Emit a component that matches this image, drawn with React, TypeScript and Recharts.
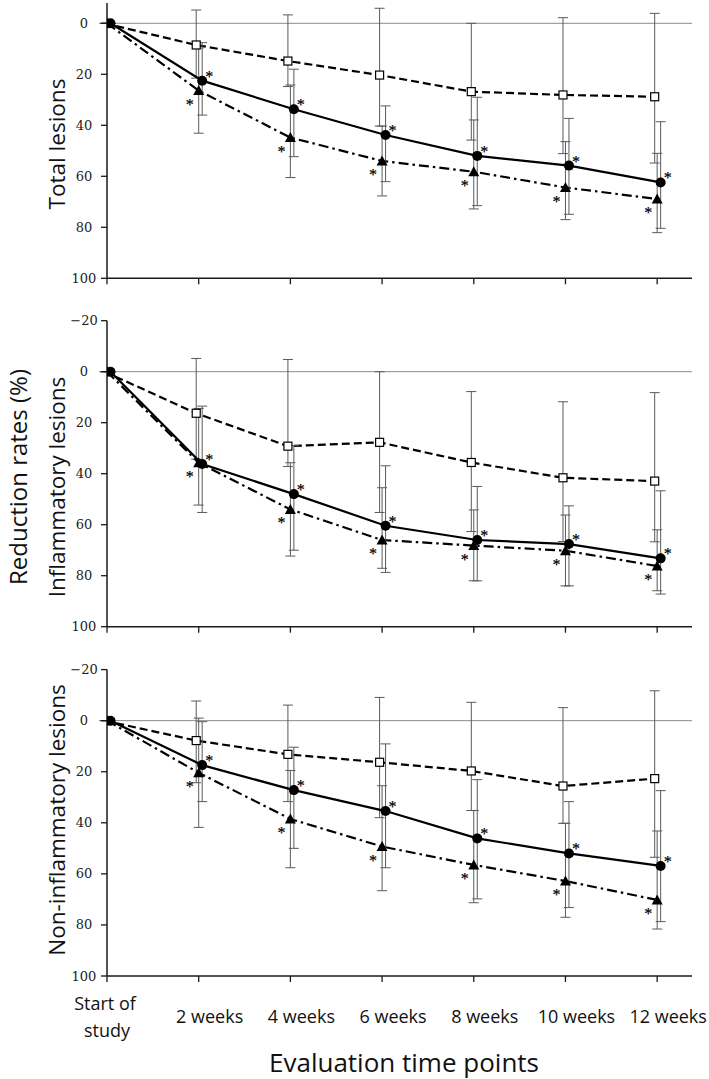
import React from 'react';
import { LineChart, Line, XAxis, YAxis, ErrorBar, ReferenceLine } from 'recharts';

// ---------- data ----------
const categories = ['Start of study', '2 weeks', '4 weeks', '6 weeks', '8 weeks', '10 weeks', '12 weeks'];
const xTicks = [0, 1, 2, 3, 4, 5, 6];
const yTicksTop = [0, 20, 40, 60, 80, 100];
const yTicksFull = [-20, 0, 20, 40, 60, 80, 100];

// Total lesions
const totalSquare = [0, 8.5, 14.8, 20.3, 26.8, 28.1, 28.8];
const totalSquareMinus = [0, 13.7, 18.1, 26.2, 26.8, 30.3, 32.7];
const totalSquarePlus = [0, 13, 10, 20, 19, 23, 26];
const totalCircle = [0, 22.5, 33.7, 43.8, 52.0, 55.8, 62.4];
const totalCircleMinus = [0, 14.9, 15.7, 11.4, 23, 18.5, 23.8];
const totalCirclePlus = [0, 13.5, 18.6, 18.3, 19.5, 19.1, 18];
const totalTriangle = [0, 26.4, 44.8, 54.0, 58.2, 64.4, 68.9];
const totalTriangleMinus = [0, 16.7, 20.6, 13.7, 20.3, 18, 17.9];
const totalTrianglePlus = [0, 16.7, 15.7, 13.7, 14.6, 12.6, 13.2];

// Inflammatory lesions
const inflSquare = [0, 16.3, 29.2, 27.7, 35.6, 41.6, 42.9];
const inflSquareMinus = [0, 21.5, 34, 27.7, 27.8, 29.8, 34.7];
const inflSquarePlus = [0, 18, 8, 27.5, 27.1, 25, 23.8];
const inflCircle = [0, 36.2, 48.0, 60.4, 66.0, 67.6, 73.2];
const inflCircleMinus = [0, 22.7, 19, 23.5, 21, 15, 26.5];
const inflCirclePlus = [0, 19, 22, 18.3, 16, 16.4, 14];
const inflTriangle = [0, 35.7, 54.0, 66.0, 68.2, 70.2, 76.2];
const inflTriangleMinus = [0, 21.3, 18.3, 20.5, 14, 14, 14.2];
const inflTrianglePlus = [0, 16.6, 18.3, 11.1, 13.8, 13.8, 9.7];

// Non-inflammatory lesions
const nonSquare = [0, 7.8, 13.2, 16.3, 19.7, 25.6, 22.7];
const nonSquareMinus = [0, 15.5, 19.3, 25.4, 26.9, 30.7, 34.4];
const nonSquarePlus = [0, 16.5, 18.5, 21.7, 15.5, 14.6, 30.8];
const nonCircle = [0, 17.4, 27.2, 35.4, 46.1, 52.0, 56.9];
const nonCircleMinus = [0, 17, 16.8, 26.3, 23, 20.3, 29.5];
const nonCirclePlus = [0, 14.3, 22.8, 22.2, 23.7, 21.2, 21.8];
const nonTriangle = [0, 20.4, 38.5, 49.3, 56.5, 62.8, 70.2];
const nonTriangleMinus = [0, 21.4, 19, 23.8, 21.3, 22.6, 27];
const nonTrianglePlus = [0, 21.4, 19.1, 17.3, 14.8, 14.2, 11.4];

// ---------- styling / layout ----------
const SANS = '"Open Sans", "DejaVu Sans", sans-serif';
const SERIF = '"DejaVu Serif", serif';
const STAR_FONT = '"Liberation Serif", serif';
const AXIS = '#1a1a1a';
const ERR = '#5a5a5a';
const X_MAX = 6.38;
const OFF_SQUARE = -0.027;
const OFF_CIRCLE = 0.038;
const OFF_TRIANGLE = 0;

const build = (vals: number[], minus: number[], plus: number[], off: number) =>
  vals.map((v, i) => ({ x: xTicks[i] + off, v, e: [minus[i], plus[i]] }));

const panels = [
  {
    key: 'total', top: 0, height: 300, mTop: 2.9, xH: 21.7, domain: [-8, 100], ticks: yTicksTop, labels: false,
    sq: build(totalSquare, totalSquareMinus, totalSquarePlus, OFF_SQUARE),
    ci: build(totalCircle, totalCircleMinus, totalCirclePlus, OFF_CIRCLE),
    tr: build(totalTriangle, totalTriangleMinus, totalTrianglePlus, OFF_TRIANGLE),
  },
  {
    key: 'infl', top: 310, height: 340, mTop: 10.7, xH: 23.3, domain: [-20, 100], ticks: yTicksFull, labels: false,
    sq: build(inflSquare, inflSquareMinus, inflSquarePlus, OFF_SQUARE),
    ci: build(inflCircle, inflCircleMinus, inflCirclePlus, OFF_CIRCLE),
    tr: build(inflTriangle, inflTriangleMinus, inflTrianglePlus, OFF_TRIANGLE),
  },
  {
    key: 'non', top: 655, height: 411, mTop: 14.6, xH: 90, domain: [-20, 100], ticks: yTicksFull, labels: true,
    sq: build(nonSquare, nonSquareMinus, nonSquarePlus, OFF_SQUARE),
    ci: build(nonCircle, nonCircleMinus, nonCirclePlus, OFF_CIRCLE),
    tr: build(nonTriangle, nonTriangleMinus, nonTrianglePlus, OFF_TRIANGLE),
  },
];

const YTick = (props: any) => {
  const { y, payload } = props;
  const v = payload.value as number;
  const s = v < 0 ? '\u2212' + Math.abs(v) : String(v);
  return (
    <text x={84} y={y} textAnchor="middle" dominantBaseline="central" fontFamily={SERIF} fontSize={13} fill="#222">
      {s}
    </text>
  );
};

const XTickLabels = (props: any) => {
  const { x, y, payload } = props;
  const label = categories[payload.value] || '';
  if (payload.value === 0) {
    const idx = label.lastIndexOf(' ');
    return (
      <text textAnchor="middle" fontFamily={SANS} fontSize={18} fill="#111">
        <tspan x={x - 2} y={y + 26}>{label.slice(0, idx)}</tspan>
        <tspan x={x} y={y + 53}>{label.slice(idx + 1)}</tspan>
      </text>
    );
  }
  return (
    <text x={x + 11} y={y + 39} textAnchor="middle" fontFamily={SANS} fontSize={18} fill="#111">
      {label}
    </text>
  );
};

const NoTick = () => null;

const Star = ({ x, y }: { x: number; y: number }) => (
  <text x={x} y={y + 9} textAnchor="middle" fontFamily={STAR_FONT} fontSize={16} fill="#000" stroke="#000" strokeWidth={0.2}>*</text>
);

const squareDot = (p: any) => (
  <rect key={'s' + p.index} x={p.cx - 4} y={p.cy - 4} width={8} height={8} fill="#fff" stroke="#000" strokeWidth={1.2} />
);
const circleDot = (p: any) => (
  <g key={'c' + p.index}>
    <circle cx={p.cx} cy={p.cy} r={5} fill="#000" />
    {p.index > 0 ? <Star x={p.cx + 7} y={p.cy - 8} /> : null}
  </g>
);
const triangleDot = (p: any) => (
  <g key={'t' + p.index}>
    <polygon points={`${p.cx},${p.cy - 5.5} ${p.cx - 5.5},${p.cy + 4.5} ${p.cx + 5.5},${p.cy + 4.5}`} fill="#000" />
    {p.index > 0 ? <Star x={p.cx - 9} y={p.cy + 10} /> : null}
  </g>
);

const Panel = ({ p }: { p: any }) => (
  <div style={{ position: 'absolute', left: 0, top: p.top }}>
    <LineChart width={709} height={p.height} margin={{ top: p.mTop, right: 17, bottom: 0, left: 47 }}>
      <XAxis
        type="number"
        dataKey="x"
        domain={[0, X_MAX]}
        ticks={xTicks}
        allowDataOverflow
        height={p.xH}
        tickSize={6}
        axisLine={{ stroke: AXIS, strokeWidth: 1.5 }}
        tickLine={{ stroke: AXIS, strokeWidth: 1.3 }}
        tick={p.labels ? <XTickLabels /> : <NoTick />}
        interval={0}
      />
      <YAxis
        type="number"
        domain={p.domain}
        reversed
        ticks={p.ticks}
        allowDataOverflow
        width={60}
        tickSize={6}
        axisLine={{ stroke: AXIS, strokeWidth: 1.5 }}
        tickLine={{ stroke: AXIS, strokeWidth: 1.3 }}
        tick={<YTick />}
        interval={0}
      />
      <ReferenceLine y={0} stroke="#8a8a8a" strokeWidth={1} />
      <Line data={p.sq} dataKey="v" stroke="#000" strokeWidth={2.2} strokeDasharray="8 4" dot={squareDot} activeDot={false} isAnimationActive={false}>
        <ErrorBar dataKey="e" width={5} stroke={ERR} strokeWidth={1} direction="y" />
      </Line>
      <Line data={p.tr} dataKey="v" stroke="#000" strokeWidth={2.2} strokeDasharray="10 4 2.5 4" dot={triangleDot} activeDot={false} isAnimationActive={false}>
        <ErrorBar dataKey="e" width={5} stroke={ERR} strokeWidth={1} direction="y" />
      </Line>
      <Line data={p.ci} dataKey="v" stroke="#000" strokeWidth={2.2} dot={circleDot} activeDot={false} isAnimationActive={false}>
        <ErrorBar dataKey="e" width={5} stroke={ERR} strokeWidth={1} direction="y" />
      </Line>
    </LineChart>
  </div>
);

const VLabel = ({ x, y, size, children }: { x: number; y: number; size: number; children: React.ReactNode }) => (
  <text x={x} y={y} transform={`rotate(-90 ${x} ${y})`} textAnchor="middle" fontFamily={SANS} fontSize={size} fill="#111">
    {children}
  </text>
);

export default function App() {
  return (
    <div style={{ position: 'absolute', left: 0, top: 0, width: 709, height: 1079, background: '#fff', overflow: 'hidden' }}>
      {panels.map((p) => (
        <Panel key={p.key} p={p} />
      ))}
      <svg width={709} height={1079} style={{ position: 'absolute', left: 0, top: 0, pointerEvents: 'none' }}>
        <VLabel x={65} y={144} size={22.5}>Total lesions</VLabel>
        <VLabel x={65} y={487} size={22.5}>Inflammatory lesions</VLabel>
        <VLabel x={65} y={820} size={22.5}>Non-inflammatory lesions</VLabel>
        <VLabel x={27} y={477} size={24}>Reduction rates (%)</VLabel>
        <text x={404} y={1072} textAnchor="middle" fontFamily={SANS} fontSize={26} fill="#111">
          Evaluation time points
        </text>
      </svg>
    </div>
  );
}
